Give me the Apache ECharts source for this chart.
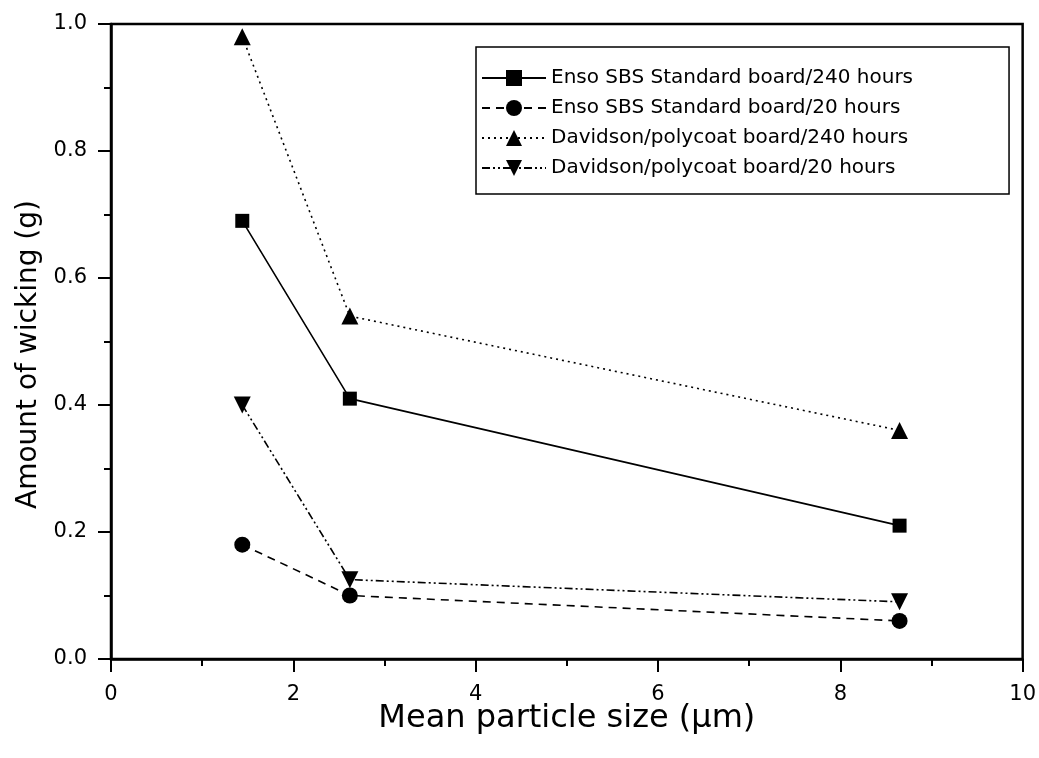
<!DOCTYPE html>
<html>
<head>
<meta charset="utf-8">
<script src="https://cdn.jsdelivr.net/npm/echarts@6/dist/echarts.min.js"></script>
<style>
    html, body { margin: 0; padding: 0; background: #fff; }
    #chart { width: 1039px; height: 758px; }
</style>
</head>
<body>
<div id="chart"></div>
<script>
// particle sizes (um)
const sizes = [1.44, 2.62, 8.65];
const ensoStd240 = [0.69, 0.41, 0.21];
const ensoStd20 = [0.18, 0.10, 0.06];
const davidson240 = [0.98, 0.54, 0.36];
const davidson20 = [0.40, 0.125, 0.09];
const seriesNames = [
    'Enso SBS Standard board/240 hours',
    'Enso SBS Standard board/20 hours',
    'Davidson/polycoat board/240 hours',
    'Davidson/polycoat board/20 hours'
];

const font = 'DejaVu Sans';

function pairs(ys) {
    return sizes.map((x, i) => [x, ys[i]]);
}

function makeSeries(name, ys, symbol, size, lineType, rotate) {
    return {
        name: name,
        type: 'line',
        data: pairs(ys),
        symbol: symbol,
        symbolSize: size,
        symbolRotate: rotate || 0,
        showAllSymbol: true,
        itemStyle: { color: '#000' },
        lineStyle: { color: '#000', width: 1.6, type: lineType },
        animation: false
    };
}

const chart = echarts.init(document.getElementById('chart'));
chart.setOption({
    backgroundColor: '#fff',
    textStyle: { fontFamily: font, color: '#000' },
    grid: {
        left: 111,
        right: 16,
        top: 24,
        bottom: 99,
        show: true,
        borderColor: '#000',
        borderWidth: 2.5,
        containLabel: false
    },
    legend: {
        orient: 'vertical',
        left: 476,
        top: 47,
        padding: [21, 96, 16, 5],
        itemGap: 10,
        itemWidth: 64,
        itemHeight: 20,
        borderColor: '#000',
        borderWidth: 1.5,
        textStyle: { fontFamily: font, fontSize: 20, color: '#000' },
        data: seriesNames
    },
    xAxis: {
        type: 'value',
        min: 0,
        max: 10,
        interval: 2,
        name: 'Mean particle size (\u03bcm)',
        nameLocation: 'middle',
        nameGap: 44,
        nameMoveOverlap: false,
        nameTextStyle: { fontFamily: font, fontSize: 32, color: '#000' },
        axisLine: { show: true, onZero: false, lineStyle: { color: '#000', width: 2.5 } },
        axisTick: { show: true, inside: false, length: 13, lineStyle: { color: '#000', width: 2 } },
        minorTick: { show: true, splitNumber: 2, length: 7, lineStyle: { color: '#000', width: 2 } },
        axisLabel: { fontFamily: font, fontSize: 21, color: '#000', margin: 25 },
        splitLine: { show: false }
    },
    yAxis: {
        type: 'value',
        min: 0,
        max: 1.0,
        interval: 0.2,
        name: 'Amount of wicking (g)',
        nameLocation: 'middle',
        nameGap: 68,
        nameTextStyle: { fontFamily: font, fontSize: 28, color: '#000', padding: [0, 26, 0, 0] },
        axisLine: { show: true, onZero: false, lineStyle: { color: '#000', width: 2.5 } },
        axisTick: { show: true, inside: false, length: 13, lineStyle: { color: '#000', width: 2 } },
        minorTick: { show: true, splitNumber: 2, length: 7, lineStyle: { color: '#000', width: 2 } },
        axisLabel: {
            fontFamily: font,
            fontSize: 21,
            color: '#000',
            margin: 24,
            formatter: v => v.toFixed(1)
        },
        splitLine: { show: false }
    },
    series: [
        makeSeries(seriesNames[0], ensoStd240, 'rect', 14, 'solid'),
        makeSeries(seriesNames[1], ensoStd20, 'circle', 16, [8, 6]),
        makeSeries(seriesNames[2], davidson240, 'triangle', 17, [2, 4]),
        makeSeries(seriesNames[3], davidson20, 'triangle', 17, [8, 3, 2, 3, 2, 3], 180)
    ]
});
</script>
</body>
</html>
